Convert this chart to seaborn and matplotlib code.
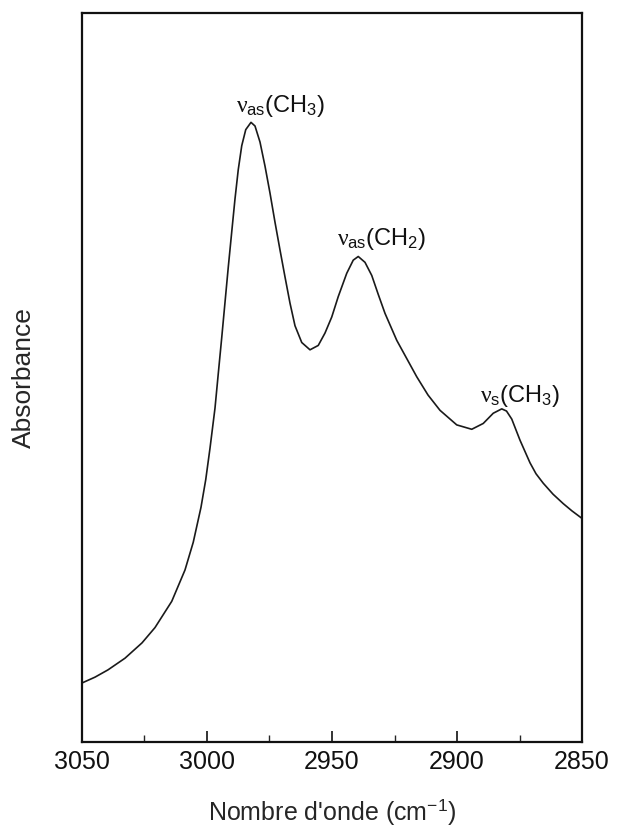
import matplotlib
matplotlib.use("Agg")
import matplotlib.pyplot as plt
from matplotlib.ticker import MultipleLocator, NullLocator
import seaborn as sns
import pandas as pd

# IR absorbance spectrum in the C-H stretching region
wavenumber = [3050.0, 3044.8, 3039.6, 3032.8, 3026.0, 3020.8, 3014.1, 3008.8,
              3005.5, 3002.4, 3000.5, 2998.8, 2996.8, 2995.5, 2994.1, 2992.8,
              2991.5, 2990.1, 2988.8, 2987.5, 2986.1, 2984.5, 2982.4, 2980.8,
              2978.8, 2976.8, 2974.8, 2972.8, 2970.8, 2968.8, 2966.8, 2964.8,
              2962.1, 2958.8, 2955.5, 2952.8, 2950.1, 2947.5, 2944.1, 2941.5,
              2939.5, 2936.8, 2934.1, 2931.5, 2928.8, 2924.1, 2916.1, 2911.6,
              2906.8, 2900.1, 2894.1, 2889.5, 2885.5, 2882.1, 2880.2, 2878.1,
              2874.8, 2870.8, 2868.4, 2865.5, 2861.6, 2857.5, 2854.0, 2850.1]
absorbance = [0.081, 0.089, 0.099, 0.115, 0.136, 0.157, 0.193, 0.236,
              0.274, 0.322, 0.360, 0.403, 0.458, 0.505, 0.555, 0.603,
              0.651, 0.700, 0.745, 0.785, 0.818, 0.840, 0.850, 0.845,
              0.823, 0.790, 0.753, 0.713, 0.675, 0.638, 0.602, 0.571,
              0.548, 0.538, 0.544, 0.561, 0.583, 0.611, 0.643, 0.661,
              0.666, 0.658, 0.640, 0.614, 0.588, 0.551, 0.501, 0.476,
              0.455, 0.435, 0.429, 0.437, 0.451, 0.457, 0.454, 0.443,
              0.414, 0.383, 0.368, 0.355, 0.340, 0.327, 0.317, 0.307]

# band assignments: label text, x position, baseline height
band_labels = [r"$\nu_{\mathrm{as}}$(CH$_3$)", r"$\nu_{\mathrm{as}}$(CH$_2$)",
               r"$\nu_{\mathrm{s}}$(CH$_3$)"]
band_x = [2970.4, 2930.0, 2874.8]
band_y = [0.864, 0.682, 0.466]

tick_values = [3050, 3000, 2950, 2900, 2850]

sns.set_style("ticks")
plt.rcParams["font.family"] = ["Liberation Sans", "DejaVu Sans"]
plt.rcParams["mathtext.fontset"] = "custom"
plt.rcParams["mathtext.rm"] = "Liberation Sans"
plt.rcParams["mathtext.it"] = "Liberation Serif"
plt.rcParams["mathtext.sf"] = "Liberation Sans"

fig = plt.figure(figsize=(6.24, 8.33), dpi=100)
ax = fig.add_axes([0.1314, 0.1092, 0.8013, 0.8752])

df = pd.DataFrame({"wavenumber": wavenumber, "absorbance": absorbance})
sns.lineplot(data=df, x="wavenumber", y="absorbance", ax=ax,
             color="#1a1a1a", linewidth=1.2, sort=False, estimator=None)

ax.set_xlim(3050, 2850)
ax.set_ylim(0, 1)

ax.set_xticks(tick_values)
ax.set_xticklabels([str(v) for v in tick_values])
ax.xaxis.set_minor_locator(MultipleLocator(25))
ax.yaxis.set_major_locator(NullLocator())
ax.tick_params(axis="x", which="major", direction="in", length=8, width=1.2,
               labelsize=18, pad=6, colors="#111111")
ax.tick_params(axis="x", which="minor", direction="in", length=5, width=1.0)

for side in ["left", "right", "top", "bottom"]:
    ax.spines[side].set_visible(True)
    ax.spines[side].set_linewidth(1.6)
    ax.spines[side].set_color("#111111")

ax.set_xlabel(r"Nombre d'onde (cm$^{-1}$)", fontsize=18, labelpad=16)
ax.set_ylabel("Absorbance", fontsize=19, labelpad=33)

for txt, xv, yv in zip(band_labels, band_x, band_y):
    ax.text(xv, yv, txt, ha="center", va="baseline", fontsize=17,
            color="#111111")

fig.savefig("out.png", dpi=100)
